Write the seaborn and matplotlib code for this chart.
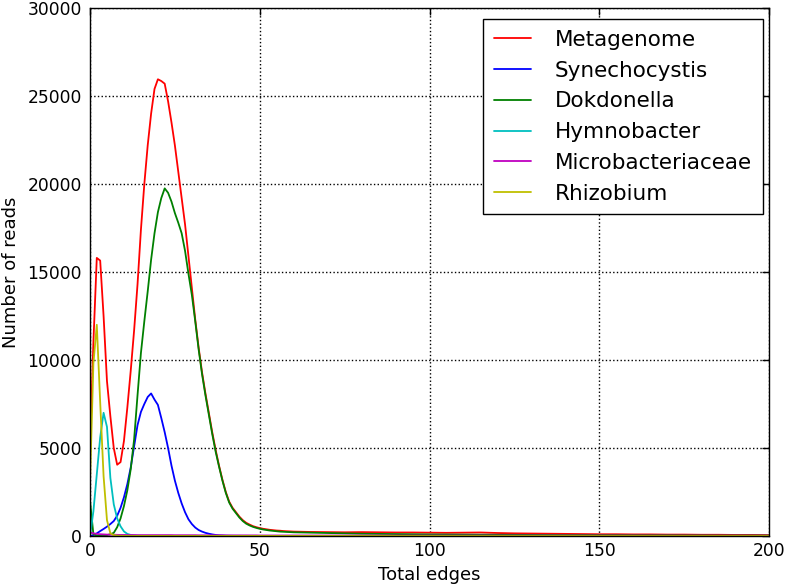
import pandas as pd
import matplotlib
matplotlib.use('Agg')
import matplotlib.pyplot as plt
import seaborn as sns


# x positions: every edge count up to 60, then every 5 up to 200
edges = list(range(0, 61)) + list(range(65, 201, 5))

metagenome = [5000, 11000, 15800, 15650, 12500, 8800, 6800, 5000, 4050, 4200,
              5400, 7300, 9400, 11700, 14300, 17400, 20000, 22200, 24000, 25400,
              25950, 25850, 25700, 24700, 23500, 22200, 20700, 19200, 17700, 15900,
              14100, 12300, 10700, 9300, 8100, 7000, 5900, 4900, 4000, 3200,
              2500, 1950, 1600, 1350, 1100, 900, 750, 650, 560, 500,
              450, 410, 380, 350, 330, 310, 300, 280, 270, 260,
              250,
              230, 220, 210, 220, 210, 200, 200, 190, 180, 190,
              200, 170, 150, 140, 130, 120, 110, 100, 100, 90,
              90, 80, 80, 70, 70, 60, 60, 50]

synechocystis = [0, 50, 150, 280, 400, 530, 680, 850, 1150, 1600,
                 2200, 2950, 3900, 5100, 6300, 7050, 7500, 7900, 8100, 7750,
                 7450, 6700, 5900, 5000, 4000, 3150, 2450, 1850, 1350, 950,
                 680, 480, 340, 250, 180, 130, 90, 60, 40, 30,
                 20, 15, 12, 10, 10, 8, 8, 6, 6, 5,
                 5, 5, 5, 5, 5, 5, 5, 5, 5, 5,
                 5,
                 5, 5, 4, 5, 4, 4, 5, 4, 4, 4,
                 4, 4, 3, 4, 3, 3, 3, 3, 3, 3,
                 3, 3, 2, 3, 2, 2, 2, 2]

dokdonella = [2000, 100, 20, 20, 30, 50, 100, 180, 500, 1000,
              1700, 2600, 3800, 5500, 8000, 10400, 12200, 13900, 15700, 17200,
              18400, 19200, 19750, 19500, 19000, 18350, 17800, 17200, 16200, 14900,
              13700, 12200, 10600, 9200, 8000, 6900, 5800, 4800, 3950, 3150,
              2450, 1900, 1550, 1300, 1050, 850, 700, 600, 520, 460,
              410, 370, 340, 310, 290, 270, 250, 240, 230, 220,
              210,
              190, 170, 150, 130, 120, 110, 100, 90, 85, 80,
              75, 70, 65, 60, 55, 50, 50, 45, 45, 40,
              40, 40, 35, 35, 30, 30, 30, 30]

hymnobacter = [0, 1400, 3500, 5600, 7000, 6200, 3300, 1800, 1000, 550,
               260, 120, 60, 30, 20, 15, 12, 10, 10, 10,
               8, 8, 8, 8, 7, 7, 7, 7, 6, 6,
               6, 6, 6, 6, 5, 5, 5, 5, 5, 5,
               5, 5, 5, 5, 5, 5, 5, 5, 5, 5,
               5, 5, 5, 5, 5, 5, 5, 5, 5, 5,
               5,
               5, 5, 4, 4, 4, 4, 4, 4, 4, 4,
               3, 3, 3, 3, 3, 3, 3, 3, 3, 2,
               2, 2, 2, 2, 2, 2, 2, 2]

microbacteriaceae = [200, 150, 120, 100, 90, 80, 75, 70, 65, 60,
                     60, 55, 55, 55, 50, 50, 50, 50, 50, 50,
                     50, 50, 50, 50, 50, 45, 45, 45, 45, 45,
                     45, 45, 40, 40, 40, 40, 40, 40, 40, 40,
                     35, 35, 35, 35, 35, 35, 35, 35, 35, 35,
                     30, 30, 30, 30, 30, 30, 30, 30, 30, 30,
                     30,
                     30, 30, 28, 28, 28, 26, 26, 26, 25, 25,
                     25, 24, 24, 24, 23, 23, 22, 22, 22, 21,
                     21, 20, 20, 20, 20, 20, 20, 20]

rhizobium = [3000, 9800, 12000, 7600, 3400, 900, 150, 50, 20, 10,
             8, 6, 5, 5, 5, 5, 5, 5, 5, 5,
             5, 5, 5, 5, 5, 5, 5, 5, 5, 5,
             5, 5, 5, 5, 5, 5, 5, 5, 5, 5,
             5, 5, 5, 5, 5, 5, 5, 5, 5, 5,
             5, 5, 5, 5, 5, 5, 5, 5, 5, 5,
             5,
             4, 4, 4, 4, 4, 4, 4, 4, 4, 4,
             3, 3, 3, 3, 3, 3, 3, 3, 3, 3,
             3, 2, 2, 2, 2, 2, 2, 2]

names = ['Metagenome', 'Synechocystis', 'Dokdonella', 'Hymnobacter',
         'Microbacteriaceae', 'Rhizobium']
series = [metagenome, synechocystis, dokdonella, hymnobacter,
          microbacteriaceae, rhizobium]
colors = ['#ff0000', '#0000ff', '#008000', '#00bfbf', '#bf00bf', '#bfbf00']

df = pd.concat([pd.DataFrame({'edges': edges, 'reads': vals, 'taxon': name})
                for name, vals in zip(names, series)], ignore_index=True)


sns.set_style('white')
plt.rcParams['font.family'] = ['DejaVu Sans']
plt.rcParams['text.color'] = 'black'
plt.rcParams['axes.labelcolor'] = 'black'
plt.rcParams['xtick.color'] = 'black'
plt.rcParams['ytick.color'] = 'black'

fig = plt.figure(figsize=(7.87, 5.85), dpi=100)
ax = fig.add_axes([90 / 787, 49 / 585, 679 / 787, 528 / 585])

sns.lineplot(data=df, x='edges', y='reads', hue='taxon', hue_order=names,
             palette=colors, estimator=None, linewidth=1.3, ax=ax)

ax.set_xlim(0, 200)
ax.set_ylim(0, 30000)
ax.set_xticks([0, 50, 100, 150, 200])
ax.set_yticks([0, 5000, 10000, 15000, 20000, 25000, 30000])
ax.grid(True, color='black', linestyle=':', linewidth=1.0)
ax.tick_params(direction='in', top=True, right=True, length=5, width=1,
               labelsize=12.3, color='black', labelcolor='black')
ax.tick_params(axis='x', pad=4)
ax.tick_params(axis='y', pad=6)
for s in ax.spines.values():
    s.set_color('black')
    s.set_linewidth(1.0)
ax.set_xlabel('Total edges', fontsize=13, labelpad=5)
ax.set_ylabel('Number of reads', fontsize=13, labelpad=5.5)

handles, labels = ax.get_legend_handles_labels()
leg = ax.legend(handles, labels, loc='upper right',
                bbox_to_anchor=(1 - 6 / 679, 1 - 11 / 528), borderaxespad=0,
                fontsize=15.5, frameon=True, fancybox=False, framealpha=1,
                edgecolor='black', labelspacing=0.5, handlelength=1.75,
                handletextpad=1.1, borderpad=0.5)
leg.get_frame().set_linewidth(1.0)
for t in leg.get_texts():
    t.set_color('black')

fig.savefig('out.png', dpi=100)
